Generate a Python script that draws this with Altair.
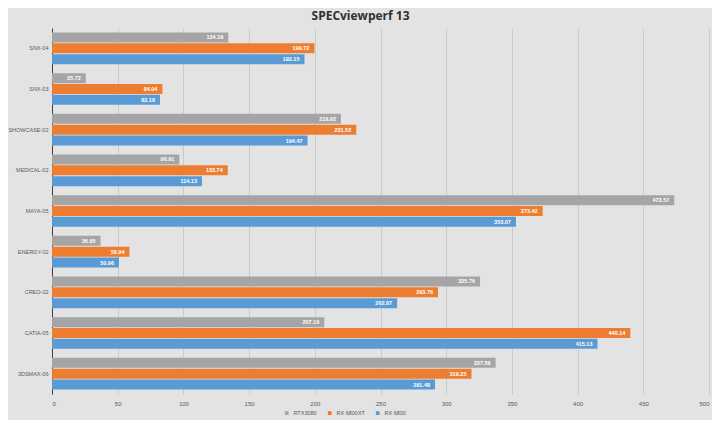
import altair as alt
import pandas as pd

tests = ["SNX-04", "SNX-03", "SHOWCASE-02", "MEDICAL-02", "MAYA-05",
         "ENERGY-02", "CREO-02", "CATIA-05", "3DSMAX-06"]
series = ["RTX3080", "RX 6800XT", "RX 6800"]
rtx3080 = [134.19, 25.72, 219.92, 96.91, 473.57, 36.95, 325.76, 207.19, 337.59]
rx6800xt = [199.72, 84.04, 231.52, 133.74, 373.42, 58.94, 293.76, 440.14, 319.25]
rx6800 = [192.15, 82.18, 194.47, 114.13, 353.07, 50.96, 262.67, 415.13, 291.48]
colors = ["#a5a5a5", "#ed7d31", "#5b9bd5"]

rows = []
for s, vals in zip(series, [rtx3080, rx6800xt, rx6800]):
    for t, v in zip(tests, vals):
        rows.append({"test": t, "series": s, "value": v, "label": f"{v:.2f}"})
df = pd.DataFrame(rows)

FONT = "Liberation Sans"

y = alt.Y("test:N", sort=tests, title=None,
          scale=alt.Scale(paddingInner=0.22, paddingOuter=0.11),
          axis=alt.Axis(labelFontSize=5.5, labelColor="#595959", labelFont=FONT,
                        ticks=False, domainColor="#404040", labelPadding=4,
                        labelLimit=0))
yoff = alt.YOffset("series:N", sort=series,
                   scale=alt.Scale(paddingInner=0.08))

base = alt.Chart(df)

bars = base.mark_bar().encode(
    x=alt.X("value:Q", title=None,
            scale=alt.Scale(domain=[0, 500]),
            axis=alt.Axis(values=list(range(0, 501, 50)), labelFontSize=6,
                          labelColor="#595959", labelFont=FONT, ticks=False,
                          domain=False, gridColor="#c4c4c4", gridWidth=0.8,
                          labelPadding=6)),
    y=y,
    yOffset=yoff,
    color=alt.Color("series:N", sort=series,
                    scale=alt.Scale(domain=series, range=colors),
                    legend=alt.Legend(title=None, orient="none", direction="horizontal",
                                      legendX=232, legendY=382,
                                      symbolType="square", symbolSize=14,
                                      labelFontSize=5.5, labelColor="#595959",
                                      labelFont=FONT, columnPadding=10,
                                      symbolStrokeWidth=0)),
)

labels = base.mark_text(align="right", baseline="middle", dx=-5, fontSize=5.5,
                        fontWeight="bold", color="white", font=FONT).encode(
    x="value:Q",
    y=alt.Y("test:N", sort=tests),
    yOffset=yoff,
    text="label:N",
)

chart = (bars + labels).properties(
    width=657, height=366,
    autosize=alt.AutoSizeParams(type="none"),
    padding={"left": 44, "top": 20, "right": 3, "bottom": 26},
    background="#e3e3e3",
    title=alt.TitleParams("SPECviewperf 13", fontSize=12, font="Open Sans",
                          fontWeight="bold", color="#303030",
                          anchor="middle", dx=-20, offset=5),
).configure_view(stroke=None)

chart.save("out.html", embed_options={"renderer": "svg", "actions": False})
